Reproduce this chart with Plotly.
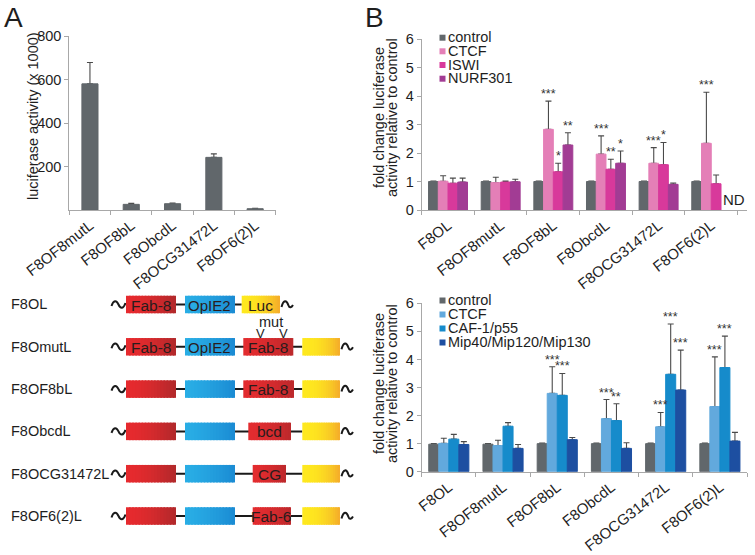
import plotly.graph_objects as go

FONT = "Liberation Sans, Arial, Helvetica, sans-serif"
W, H = 755, 555

# ---------------- DATA ----------------
A_CATS = ["F8OF8mutL", "F8OF8bL", "F8ObcdL", "F8OCG31472L", "F8OF6(2)L"]
A_VALUES = [580, 26, 29, 242, 6]
A_ERRORS = [98, 5, 3, 16, 2]

B_CATS = ["F8OL", "F8OF8mutL", "F8OF8bL", "F8ObcdL", "F8OCG31472L", "F8OF6(2)L"]

TOP_NAMES = ["control", "CTCF", "ISWI", "NURF301"]
TOP_CONTROL = [1.0, 1.0, 1.0, 1.0, 1.0, 1.0]
TOP_CONTROL_ERR = [0.02, 0.02, 0.02, 0.02, 0.02, 0.02]
TOP_CTCF = [1.01, 0.96, 2.83, 1.96, 1.64, 2.34]
TOP_CTCF_ERR = [0.19, 0.19, 0.99, 0.64, 0.55, 1.79]
TOP_ISWI = [0.94, 0.98, 1.34, 1.43, 1.59, 0.92]
TOP_ISWI_ERR = [0.18, 0.04, 0.30, 0.35, 0.78, 0.31]
TOP_NURF = [0.98, 0.99, 2.28, 1.64, 0.90, None]
TOP_NURF_ERR = [0.14, 0.09, 0.43, 0.43, 0.05, None]
TOP_STARS_CTCF = ["", "", "***", "***", "***", "***"]
TOP_STARS_ISWI = ["", "", "*", "**", "*", ""]
TOP_STARS_NURF = ["", "", "**", "*", "", ""]

BOT_NAMES = ["control", "CTCF", "CAF-1/p55", "Mip40/Mip120/Mip130"]
BOT_CONTROL = [0.98, 0.98, 1.0, 1.0, 1.0, 1.0]
BOT_CONTROL_ERR = [0.02, 0.02, 0.02, 0.02, 0.02, 0.02]
BOT_CTCF = [1.01, 0.93, 2.79, 1.89, 1.60, 2.32]
BOT_CTCF_ERR = [0.18, 0.19, 0.95, 0.68, 0.51, 1.77]
BOT_CAF = [1.16, 1.62, 2.72, 1.82, 3.47, 3.71]
BOT_CAF_ERR = [0.17, 0.13, 0.78, 0.60, 1.79, 1.12]
BOT_MIP = [0.97, 0.83, 1.14, 0.83, 2.91, 1.09]
BOT_MIP_ERR = [0.10, 0.14, 0.08, 0.20, 1.42, 0.31]
BOT_STARS_CTCF = ["", "", "***", "***", "***", "***"]
BOT_STARS_CAF = ["", "", "***", "**", "***", "***"]
BOT_STARS_MIP = ["", "", "", "", "***", ""]

DIAG_NAMES = ["F8OL", "F8OmutL", "F8OF8bL", "F8ObcdL", "F8OCG31472L", "F8OF6(2)L"]
DIAG_BOX1_LABELS = ["Fab-8", "Fab-8", "", "", "", ""]
DIAG_BOX2_LABELS = ["OpIE2", "OpIE2", "", "", "", ""]
DIAG_BOX3_LABELS = ["Luc", "Fab-8", "Fab-8", "bcd", "CG", "Fab-6"]

# ---------------- STYLE / GEOMETRY ----------------
GREY = "#61676b"
TOP_COLORS = [GREY, "#e47fb7", "#d8399b", "#a23c94"]
BOT_COLORS = [GREY, "#62a9dd", "#168bcb", "#1d4fa1"]
ERR_COLOR = "#4a4a4a"
AXIS_COLOR = "#a8a8a8"
TEXT = "#1e1e1e"
BARGAP = 0.26


def px(x):
    return x / W


def py(y):
    return 1 - y / H


fig = go.Figure()


def add_bars(cats, vals, errs, color, xa, ya, group, width=None):
    common = dict(x=cats, y=vals, xaxis=xa, yaxis=ya, offsetgroup=group,
                  showlegend=False, hoverinfo="skip")
    if width is not None:
        common["width"] = width
    fig.add_trace(go.Bar(
        marker=dict(color="rgba(0,0,0,0)", line=dict(width=0)),
        error_y=dict(type="data", array=errs,
                     arrayminus=[0 if e is not None else None for e in errs],
                     symmetric=False, color=ERR_COLOR, thickness=1.1, width=3),
        **common))
    fig.add_trace(go.Bar(marker=dict(color=color, line=dict(color=color, width=1)), **common))


# Panel A
add_bars(A_CATS, A_VALUES, A_ERRORS, GREY, "x", "y", "a", width=0.39)

# Panel B top
top_vals = [TOP_CONTROL, TOP_CTCF, TOP_ISWI, TOP_NURF]
top_errs = [TOP_CONTROL_ERR, TOP_CTCF_ERR, TOP_ISWI_ERR, TOP_NURF_ERR]
for i in range(4):
    add_bars(B_CATS, top_vals[i], top_errs[i], TOP_COLORS[i], "x2", "y2", "t%d" % i)

# Panel B bottom
bot_vals = [BOT_CONTROL, BOT_CTCF, BOT_CAF, BOT_MIP]
bot_errs = [BOT_CONTROL_ERR, BOT_CTCF_ERR, BOT_CAF_ERR, BOT_MIP_ERR]
for i in range(4):
    add_bars(B_CATS, bot_vals[i], bot_errs[i], BOT_COLORS[i], "x3", "y3", "b%d" % i)

ann = []
shapes = []


def text_px(x, y, text, size=14.5, xanchor="center", yanchor="middle", angle=0, color=TEXT):
    ann.append(dict(x=px(x), y=py(y), xref="paper", yref="paper", text=text,
                    showarrow=False, xanchor=xanchor, yanchor=yanchor, textangle=angle,
                    font=dict(family=FONT, size=size, color=color)))


def slot_x(ci, si, n=4):
    slot = (1 - BARGAP) / n
    return ci - (1 - BARGAP) / 2 + slot * (si + 0.5)


def stars(xa, ya, vals, errs, marks, si):
    for ci, m in enumerate(marks):
        if not m:
            continue
        top = vals[ci] + (errs[ci] or 0)
        ann.append(dict(x=slot_x(ci, si), y=top, xref=xa, yref=ya, text=m,
                        showarrow=False, yanchor="bottom", xanchor="center",
                        font=dict(family=FONT, size=12.5, color="#333"), yshift=-2))


stars("x2", "y2", TOP_CTCF, TOP_CTCF_ERR, TOP_STARS_CTCF, 1)
stars("x2", "y2", TOP_ISWI, TOP_ISWI_ERR, TOP_STARS_ISWI, 2)
stars("x2", "y2", TOP_NURF, TOP_NURF_ERR, TOP_STARS_NURF, 3)
stars("x3", "y3", BOT_CTCF, BOT_CTCF_ERR, BOT_STARS_CTCF, 1)
stars("x3", "y3", BOT_CAF, BOT_CAF_ERR, BOT_STARS_CAF, 2)
stars("x3", "y3", BOT_MIP, BOT_MIP_ERR, BOT_STARS_MIP, 3)

# ND label for missing NURF301 bar
for ci, v in enumerate(TOP_NURF):
    if v is None:
        ann.append(dict(x=slot_x(ci, 3) - (1 - BARGAP) / 8, y=0, xref="x2", yref="y2",
                        text="ND", showarrow=False, xanchor="left", yanchor="bottom",
                        font=dict(family=FONT, size=15, color=TEXT)))

# Panel letters
text_px(2, 17, "A", size=28, xanchor="left")
text_px(363, 17, "B", size=28, xanchor="left")

# Axis titles
text_px(33, 116, "luciferase activity (x 1000)", angle=-90)
for yc in (118, 384):
    text_px(379, yc, "fold change luciferase", angle=-90)
    text_px(392, yc, "activity relative to control", angle=-90)


# Manual legends
def legend(names, colors, ys):
    for n, c, yy in zip(names, colors, ys):
        shapes.append(dict(type="rect", xref="paper", yref="paper",
                           x0=px(439.5), x1=px(445.5), y0=py(yy + 3), y1=py(yy - 3),
                           fillcolor=c, line=dict(width=0)))
        text_px(446, yy - 0.5, n, xanchor="left")


legend(TOP_NAMES, TOP_COLORS, [37.7, 51.3, 65.0, 78.7])
legend(BOT_NAMES, BOT_COLORS, [300.5, 314.5, 328.5, 342.5])

# ---------------- Construct diagram ----------------
ROW_Y0, ROW_DY, BOX_H = 304.5, 42.3, 17.5
RED = ("#e62a2e", "#b3292b")
BLUE = ("#29ade5", "#1b8cd4")
YEL = ("#fee81f", "#f5ae2a")
BOX1 = (126, 176)
BOX2 = (185, 235)
BOX3 = [(241.7, 280), (243.3, 293.3), (243.3, 294), (248.3, 291), (252.7, 286), (252.7, 291)]
BOX4 = (302.3, 340)


def hex2rgb(h):
    return tuple(int(h[i:i + 2], 16) for i in (1, 3, 5))


def grad_box(x0, x1, yc, cols, n=16, power=1.6):
    a, b = hex2rgb(cols[0]), hex2rgb(cols[1])
    for k in range(n):
        t = (k / (n - 1)) ** power
        c = tuple(round(a[j] + (b[j] - a[j]) * t) for j in range(3))
        xa = x0 + (x1 - x0) * k / n
        xb = min(x1, x0 + (x1 - x0) * (k + 1) / n + 1.5)
        shapes.append(dict(type="rect", xref="paper", yref="paper",
                           x0=px(xa), x1=px(xb), y0=py(yc + BOX_H / 2), y1=py(yc - BOX_H / 2),
                           fillcolor="rgb(%d,%d,%d)" % c, line=dict(width=0)))


def path_px(pts_cmd):
    out = []
    for tok in pts_cmd:
        if isinstance(tok, str):
            out.append(tok)
        else:
            out.append("%.5f,%.5f" % (px(tok[0]), py(tok[1])))
    return " ".join(out)


def wave_left(x0, yc):
    return path_px(["M", (x0, yc + 1.5), "C", (x0 + 2, yc - 4.5), (x0 + 5, yc - 4.5), (x0 + 7, yc),
                    "C", (x0 + 9, yc + 4.5), (x0 + 12, yc + 4.5), (x0 + 14, yc - 1.5)])


def wave_right(x0, yc):
    return path_px(["M", (x0, yc + 2.5), "C", (x0 + 2, yc - 5), (x0 + 5, yc - 5), (x0 + 7, yc + 1),
                    "C", (x0 + 8, yc + 4), (x0 + 10, yc + 3), (x0 + 11.5, yc + 0.5)])


def box_label(text, x0, x1, yc, size=15.5):
    if text:
        text_px((x0 + x1) / 2, yc + 0.5, text, size=size, color="#2a1c1c")


for r, name in enumerate(DIAG_NAMES):
    yc = ROW_Y0 + ROW_DY * r
    text_px(9, yc, name, xanchor="left")
    last = BOX3[r][0] if r == 0 else BOX4[0]
    shapes.append(dict(type="line", xref="paper", yref="paper", x0=px(BOX1[1]), x1=px(last),
                       y0=py(yc), y1=py(yc), line=dict(color="#1a1a1a", width=2)))
    shapes.append(dict(type="path", xref="paper", yref="paper", path=wave_left(111.5, yc),
                       line=dict(color="#1a1a1a", width=2)))
    grad_box(BOX1[0], BOX1[1], yc, RED)
    grad_box(BOX2[0], BOX2[1], yc, BLUE, power=1.3)
    if r == 0:
        grad_box(BOX3[r][0], BOX3[r][1], yc, YEL, power=2.0)
        shapes.append(dict(type="path", xref="paper", yref="paper",
                           path=wave_right(BOX3[r][1] + 1.5, yc),
                           line=dict(color="#1a1a1a", width=2)))
    else:
        grad_box(BOX3[r][0], BOX3[r][1], yc, ("#e22c2f", "#bd292c"))
        grad_box(BOX4[0], BOX4[1], yc, YEL, power=2.2)
        shapes.append(dict(type="path", xref="paper", yref="paper",
                           path=wave_right(BOX4[1] + 1.5, yc),
                           line=dict(color="#1a1a1a", width=2)))
    box_label(DIAG_BOX1_LABELS[r], BOX1[0], BOX1[1], yc)
    box_label(DIAG_BOX2_LABELS[r], BOX2[0], BOX2[1], yc, size=15)
    box_label(DIAG_BOX3_LABELS[r], BOX3[r][0], BOX3[r][1], yc)

# mutation marks
text_px(270.5, 322, "mut")
for vx in (260.5, 283.5):
    text_px(vx, 333.5, "V", size=13)

# ---------------- Axes ----------------
tickfont = dict(family=FONT, size=14.5, color=TEXT)
xtickfont = dict(family=FONT, size=15, color=TEXT)
xcommon = dict(type="category", showline=True, linecolor=AXIS_COLOR, linewidth=1,
               ticks="outside", tickson="boundaries", ticklen=4, tickcolor=AXIS_COLOR,
               tickangle=-38, tickfont=xtickfont, showgrid=False, zeroline=False,
               fixedrange=True, automargin=False)
ycommon = dict(showline=True, linecolor=AXIS_COLOR, linewidth=1, ticks="outside", ticklen=4,
               tickcolor=AXIS_COLOR, tickfont=tickfont, showgrid=False, zeroline=False,
               fixedrange=True, automargin=False)

fig.update_layout(
    width=W, height=H, margin=dict(l=0, r=0, t=0, b=0, autoexpand=False),
    paper_bgcolor="white", plot_bgcolor="white",
    barmode="group", bargap=BARGAP, bargroupgap=0, showlegend=False,
    font=dict(family=FONT, color=TEXT),
    xaxis=dict(domain=[px(69.3), px(275.8)], anchor="y", **xcommon),
    yaxis=dict(domain=[py(210), py(36)], anchor="x", range=[0, 800],
               tickvals=[200, 400, 600, 800], **ycommon),
    xaxis2=dict(domain=[px(421.7), px(747)], anchor="y2", **xcommon),
    yaxis2=dict(domain=[py(210), py(39)], anchor="x2", range=[0, 6], dtick=1, **ycommon),
    xaxis3=dict(domain=[px(421.7), px(747)], anchor="y3", **xcommon),
    yaxis3=dict(domain=[py(471.7), py(303.3)], anchor="x3", range=[0, 6], dtick=1, **ycommon),
    annotations=ann, shapes=shapes,
)

fig.write_html("out.html", config={"displayModeBar": False},
               post_script="document.body.style.margin='0';document.body.style.overflow='hidden';")
